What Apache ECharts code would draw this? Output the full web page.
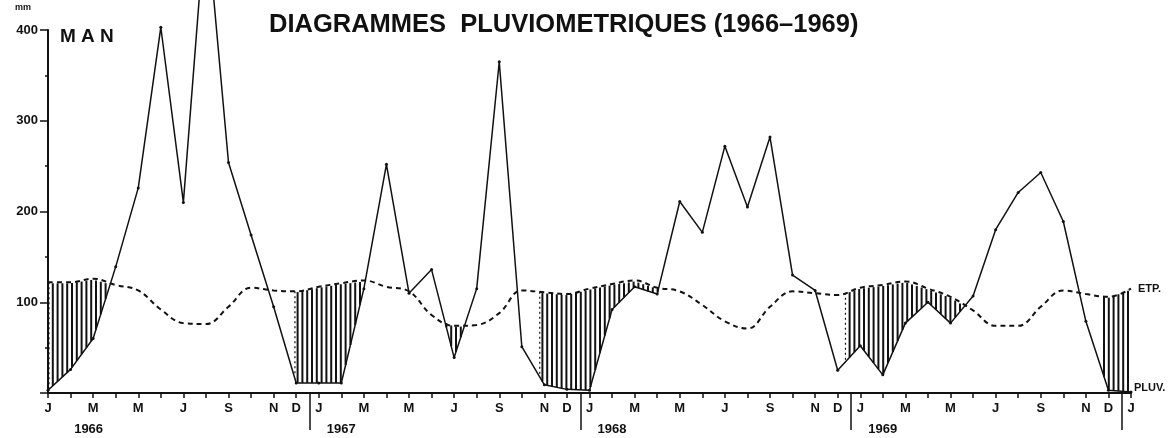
<!DOCTYPE html>
<html>
<head>
<meta charset="utf-8">
<script src="https://cdn.jsdelivr.net/npm/echarts@6/dist/echarts.min.js"></script>
<style>
  html, body { margin: 0; padding: 0; background: #fff; }
  #chart { width: 1168px; height: 438px; }
</style>
</head>
<body>
<div id="chart"></div>
<script>
// monthly values, Jan 1966 .. Jan 1970 (49 points)
const monthLetters = ['J', 'F', 'M', 'A', 'M', 'J', 'J', 'A', 'S', 'O', 'N', 'D'];
const labeledMonths = [0, 2, 4, 6, 8, 10, 11];
const years = ['1966', '1967', '1968', '1969'];
const yearLabelAt = [1.8, 13, 25, 37];
const yearBreaks = [11.6, 23.6, 35.6, 47.6];

// pluviometrie (mm)
const pluv = [
  3, 26, 60, 139, 226, 403, 210, 530, 254, 174, 95, 11,
  11, 11, 115, 252, 110, 136, 39, 115, 365, 51, 9, 4,
  3, 92, 117, 109, 211, 177, 272, 205, 282, 130, 113, 25,
  52, 20, 77, 100, 77, 107, 180, 221, 243, 189, 79, 3,
  1
];
// evapotranspiration potentielle (mm)
const etp = [
  122, 122, 126, 119, 113, 92, 77, 76, 95, 116, 113, 112,
  117, 121, 124, 117, 112, 86, 74, 75, 88, 113, 111, 109,
  115, 120, 124, 116, 112, 97, 79, 71, 95, 112, 110, 108,
  116, 119, 123, 115, 106, 91, 74, 74, 95, 113, 109, 106,
  115
];
// where the hatched (deficit) periods begin
const hatchStarts = [0, 10.9, 17, 21.75, 35.3, 46.75];

const last = pluv.length - 1;
const monthIdx = pluv.map((_, i) => i);
const tickValues = monthIdx;
const labelValues = monthIdx.filter(i => i === last || labeledMonths.includes(i % 12));

const HATCH_STEP = 4.8;

function interp(arr, t) {
  const i = Math.floor(t);
  if (i >= arr.length - 1) return arr[arr.length - 1];
  return arr[i] + (arr[i + 1] - arr[i]) * (t - i);
}
function deficit(t) { return interp(etp, t) - interp(pluv, t); }
function crossing(i) {
  const d0 = etp[i] - pluv[i], d1 = etp[i + 1] - pluv[i + 1];
  return i + d0 / (d0 - d1);
}
// y of a pixel polyline (sorted by x) at pixel x
function yOn(poly, x) {
  for (let k = 0; k < poly.length - 1; k++) {
    const a = poly[k], b = poly[k + 1];
    if (x >= a[0] && x <= b[0]) {
      const f = b[0] === a[0] ? 0 : (x - a[0]) / (b[0] - a[0]);
      return a[1] + (b[1] - a[1]) * f;
    }
  }
  return poly[poly.length - 1][1];
}

function renderHatch(params, api) {
  let s = api.value(0);
  if (deficit(s) <= 0) {
    let i = Math.floor(s);
    while (i < last && !(etp[i + 1] - pluv[i + 1] > 0)) i++;
    s = crossing(i);
  }
  let e = last;
  for (let k = Math.floor(s) + 1; k <= last; k++) {
    if (etp[k] - pluv[k] <= 0) { e = crossing(k - 1); break; }
  }
  const top = [[s, interp(etp, s)]];
  const bot = [[s, interp(pluv, s)]];
  for (let k = Math.floor(s) + 1; k < e; k++) {
    top.push([k, etp[k]]);
    bot.push([k, pluv[k]]);
  }
  top.push([e, interp(etp, e)]);
  bot.push([e, interp(pluv, e)]);
  const topPx = top.map(p => api.coord(p));
  const botPx = bot.map(p => api.coord(p));
  const x0 = topPx[0][0], x1 = topPx[topPx.length - 1][0];
  const children = [];
  for (let x = Math.ceil((x0 + 0.5) / HATCH_STEP) * HATCH_STEP; x < x1 - 0.5; x += HATCH_STEP) {
    const yt = yOn(topPx, x) + 1, yb = yOn(botPx, x);
    if (yb - yt < 1) continue;
    children.push({
      type: 'line',
      shape: { x1: x, y1: yt, x2: x, y2: yb },
      style: { stroke: '#111', lineWidth: 2 }
    });
  }
  if (deficit(s) > 2) {
    const a = api.coord([s, interp(etp, s)]);
    const b = api.coord([s, interp(pluv, s)]);
    children.push({
      type: 'line',
      shape: { x1: a[0] + 1, y1: a[1], x2: a[0] + 1, y2: b[1] },
      style: { stroke: '#111', lineWidth: 1.2, lineDash: [2, 3] }
    });
  }
  return { type: 'group', children: children };
}

const chart = echarts.init(document.getElementById('chart'));
const font = 'Liberation Sans, Arial, sans-serif';

chart.setOption({
  animation: false,
  backgroundColor: '#fff',
  title: {
    text: 'DIAGRAMMES  PLUVIOMETRIQUES (1966–1969)',
    left: 269,
    top: 12,
    padding: 0,
    textStyle: { fontFamily: font, fontSize: 25.5, fontWeight: 'bold', color: '#111' }
  },
  graphic: [
    { type: 'text', left: 15, top: 3, style: { text: 'mm', font: 'bold 9px ' + font, fill: '#111' } },
    { type: 'text', left: 60, top: 27, style: { text: 'M A N', font: 'bold 19px ' + font, fill: '#111' } }
  ],
  grid: { left: 48, right: 37, top: 30, bottom: 45 },
  xAxis: [
    {
      type: 'value',
      min: 0,
      max: last,
      splitLine: { show: false },
      axisLine: { lineStyle: { color: '#111', width: 2 } },
      axisTick: { customValues: tickValues, length: 5, lineStyle: { color: '#111', width: 1.5 } },
      axisLabel: {
        customValues: labelValues,
        margin: 9,
        formatter: v => monthLetters[v % 12],
        fontFamily: font,
        fontSize: 13,
        fontWeight: 'bold',
        color: '#111'
      }
    },
    {
      type: 'value',
      min: 0,
      max: last,
      position: 'bottom',
      splitLine: { show: false },
      axisLine: { show: false },
      axisTick: { customValues: yearBreaks, length: 37, lineStyle: { color: '#111', width: 1.5 } },
      axisLabel: {
        customValues: yearLabelAt,
        margin: 30,
        formatter: v => years[yearLabelAt.indexOf(v)],
        fontFamily: font,
        fontSize: 13,
        fontWeight: 'bold',
        color: '#111'
      }
    }
  ],
  yAxis: {
    type: 'value',
    min: 0,
    max: 400,
    interval: 100,
    splitLine: { show: false },
    axisLine: { show: true, lineStyle: { color: '#111', width: 2 } },
    axisTick: { show: true, length: 8, lineStyle: { color: '#111', width: 1.5 } },
    minorTick: { show: true, splitNumber: 2, length: 3, lineStyle: { color: '#111', width: 1.5 } },
    axisLabel: {
      margin: 10,
      showMinLabel: false,
      fontFamily: font,
      fontSize: 13,
      fontWeight: 'bold',
      color: '#111'
    }
  },
  series: [
    {
      type: 'custom',
      name: 'deficit',
      renderItem: renderHatch,
      data: hatchStarts.map(s => [s, 0]),
      encode: { x: 0, y: 1 },
      z: 1,
      silent: true
    },
    {
      type: 'line',
      name: 'ETP',
      data: monthIdx.map(i => [i, etp[i]]),
      smooth: 0.4,
      showSymbol: false,
      lineStyle: { color: '#111', width: 2, type: [5, 4] },
      endLabel: {
        show: true,
        formatter: 'ETP.',
        distance: 7,
        fontFamily: font,
        fontSize: 11,
        fontWeight: 'bold',
        color: '#111'
      },
      z: 3
    },
    {
      type: 'line',
      name: 'PLUV',
      data: monthIdx.map(i => [i, pluv[i]]),
      clip: false,
      symbol: 'circle',
      symbolSize: 3,
      itemStyle: { color: '#111' },
      lineStyle: { color: '#111', width: 1.5 },
      endLabel: {
        show: true,
        formatter: 'PLUV.',
        distance: 3,
        offset: [0, -4],
        fontFamily: font,
        fontSize: 11,
        fontWeight: 'bold',
        color: '#111'
      },
      z: 4
    }
  ]
});
</script>
</body>
</html>
